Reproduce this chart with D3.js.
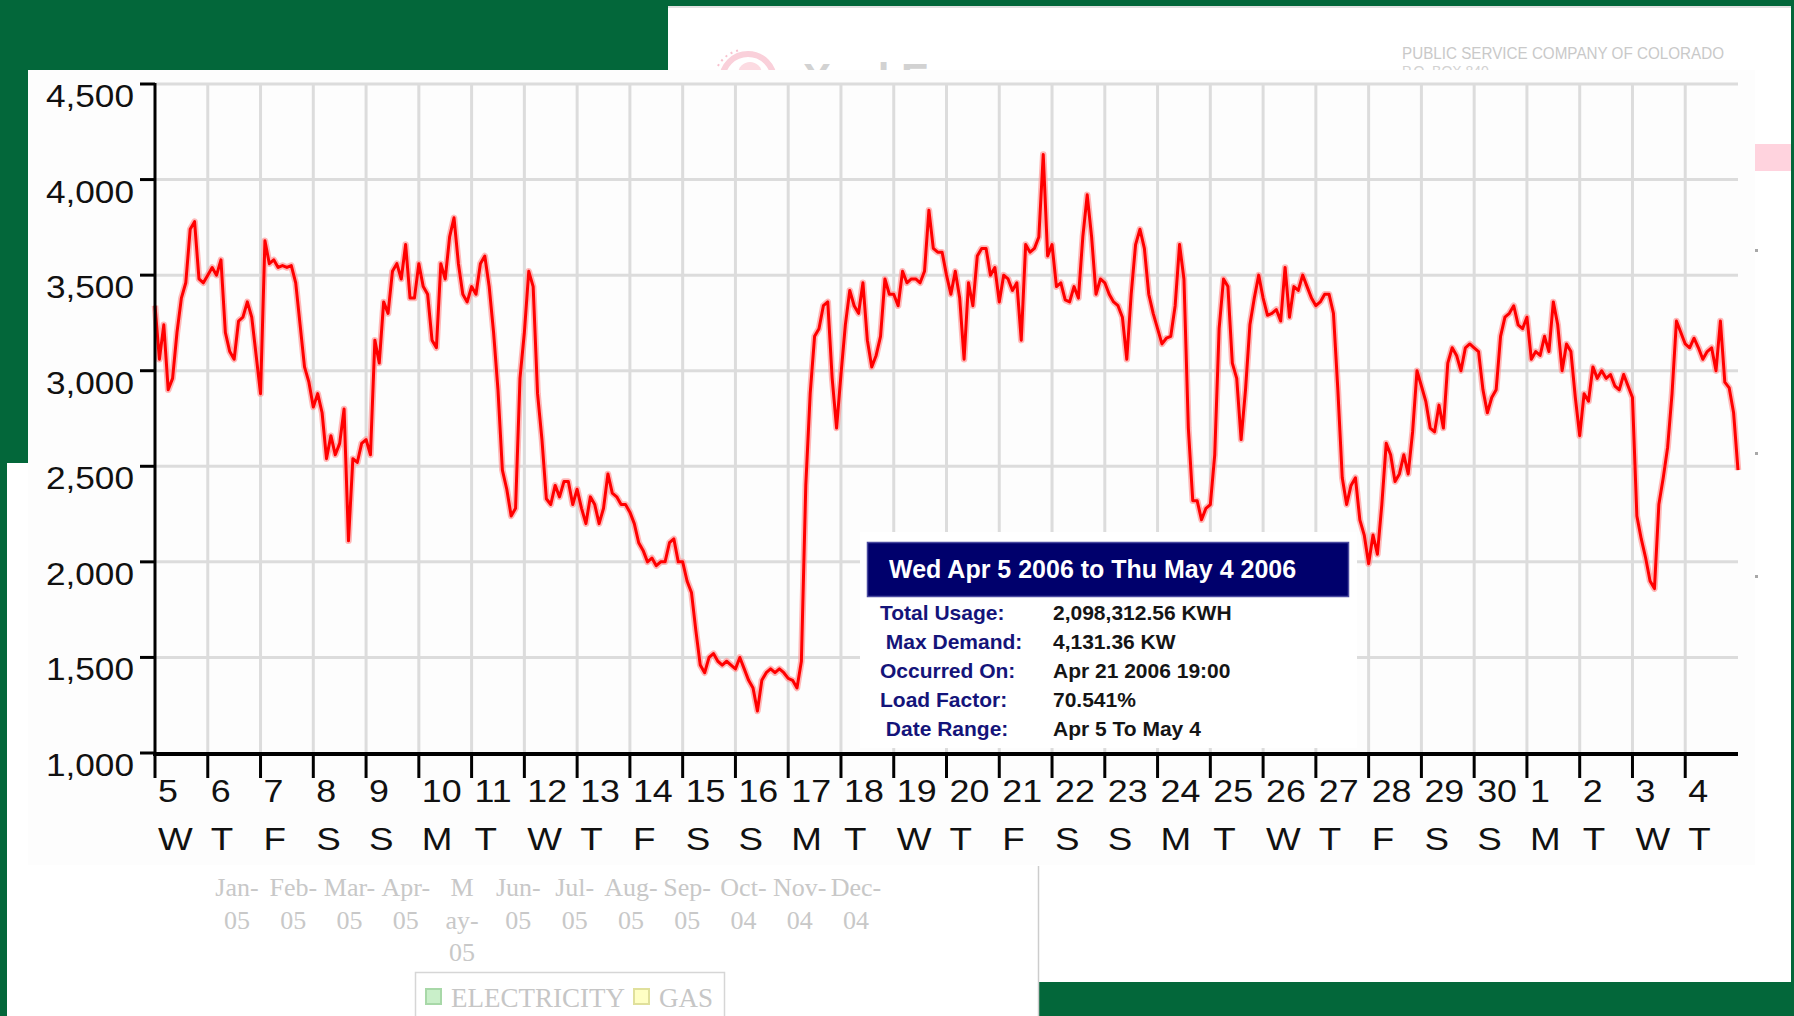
<!DOCTYPE html>
<html><head><meta charset="utf-8">
<script src="https://cdn.jsdelivr.net/npm/d3@7"></script>
<style>html,body{margin:0;padding:0;background:#03673a;overflow:hidden}svg{display:block}</style>
</head><body>
<svg id="c" width="1794" height="1016"></svg>
<script>
// ---------------- DATA ----------------
const startDate = "2006-04-05T00:00:00Z";
const endDate = "2006-05-05T00:00:00Z";
const stepHours = 2;
// Demand (KW), one value every 2 hours from Apr 5 00:00, one row per day
const demandKW = [
  3340,3060,3240,2900,2960,3200,3380,3460,3740,3780,3480,3460, // Apr 5
  3500,3540,3500,3580,3200,3100,3060,3260,3280,3360,3280,3080, // Apr 6
  2880,3680,3560,3580,3540,3550,3540,3550,3460,3240,3020,2940, // Apr 7
  2810,2880,2780,2540,2660,2560,2620,2800,2110,2540,2520,2620, // Apr 8
  2640,2560,3160,3040,3360,3300,3520,3560,3480,3660,3380,3380, // Apr 9
  3560,3440,3400,3160,3120,3560,3480,3700,3800,3560,3400,3360, // Apr 10
  3440,3400,3560,3600,3440,3200,2900,2480,2380,2240,2280,2960, // Apr 11
  3200,3520,3440,2880,2640,2330,2300,2400,2340,2420,2420,2300, // Apr 12
  2380,2280,2200,2340,2300,2200,2280,2460,2360,2340,2300,2300, // Apr 13
  2260,2200,2100,2060,2000,2020,1980,2000,2000,2100,2120,2000, // Apr 14
  2000,1900,1840,1640,1460,1420,1500,1520,1480,1460,1480,1460, // Apr 15
  1440,1500,1440,1380,1340,1220,1380,1420,1440,1420,1440,1420, // Apr 16
  1390,1380,1340,1480,2400,2880,3180,3220,3340,3360,2960,2700, // Apr 17
  2980,3240,3420,3340,3300,3460,3160,3020,3080,3180,3480,3400, // Apr 18
  3400,3340,3520,3460,3480,3480,3460,3520,3840,3640,3620,3620, // Apr 19
  3500,3400,3520,3380,3060,3460,3340,3600,3640,3640,3500,3540, // Apr 20
  3360,3500,3480,3420,3460,3160,3660,3620,3640,3700,4131.36,3600, // Apr 21
  3660,3440,3460,3370,3360,3440,3380,3700,3920,3700,3400,3480, // Apr 22
  3460,3400,3360,3340,3280,3060,3400,3660,3740,3640,3400,3300, // Apr 23
  3220,3140,3170,3180,3340,3660,3480,2700,2320,2320,2220,2280, // Apr 24
  2300,2560,3220,3480,3440,3040,2960,2640,2900,3240,3380,3500, // Apr 25
  3380,3290,3300,3320,3260,3540,3280,3440,3420,3500,3440,3380, // Apr 26
  3340,3360,3400,3400,3300,2900,2440,2300,2400,2440,2220,2140, // Apr 27
  1990,2140,2040,2300,2620,2560,2420,2460,2560,2460,2680,3000, // Apr 28
  2920,2840,2700,2680,2820,2700,3040,3120,3080,3000,3120,3140, // Apr 29
  3120,3100,2900,2780,2860,2900,3180,3280,3300,3340,3240,3220, // Apr 30
  3280,3060,3100,3080,3180,3100,3360,3240,3000,3140,3100,2860, // May 1
  2660,2880,2840,3020,2960,3000,2960,2980,2920,2900,2980,2920, // May 2
  2860,2240,2120,2020,1900,1860,2300,2440,2600,2880,3260,3200, // May 3
  3140,3120,3170,3120,3060,3100,3120,3000,3260,2940,2910,2780, // May 4
  2480                                                          // May 5 00:00
];
const yTicks = [1000,1500,2000,2500,3000,3500,4000,4500];
const dayNumbers = [5,6,7,8,9,10,11,12,13,14,15,16,17,18,19,20,21,22,23,24,25,26,27,28,29,30,1,2,3,4];
const dayLetters = ["W","T","F","S","S","M","T","W","T","F","S","S","M","T","W","T","F","S","S","M","T","W","T","F","S","S","M","T","W","T"];
const monthLines = [["Jan-","05"],["Feb-","05"],["Mar-","05"],["Apr-","05"],["M","ay-","05"],["Jun-","05"],
                    ["Jul-","05"],["Aug-","05"],["Sep-","05"],["Oct-","04"],["Nov-","04"],["Dec-","04"]];
const legendItems = ["ELECTRICITY","GAS"];
const tooltipTitle = "Wed Apr 5 2006 to Thu May 4 2006";
const tooltipLabels = ["Total Usage:","\u00a0Max Demand:","Occurred On:","Load Factor:","\u00a0Date Range:"];
const tooltipValues = ["2,098,312.56 KWH","4,131.36 KW","Apr 21 2006 19:00","70.541%","Apr 5 To May 4"];
const companyName = "PUBLIC SERVICE COMPANY OF COLORADO";
const companyAddr = "P.O. BOX 840";
const logoText = "Xcel Energy";

// ---------------- DRAW ----------------
const W = 1794, H = 1016;
const SANS = "'Liberation Sans', Arial, sans-serif";
const SERIF = "'Liberation Serif', 'Times New Roman', serif";
const GREEN = "#03673a";
const svg = d3.select("#c");

svg.append("rect").attr("width", W).attr("height", H).attr("fill", GREEN);

// Panel A (top-right, header sheet)
svg.append("rect").attr("x", 668).attr("y", 6).attr("width", 1123).attr("height", 976).attr("fill", "#fff");
svg.append("rect").attr("x", 668).attr("y", 6).attr("width", 1123).attr("height", 2).attr("fill", "#e2e2e2");
const logo = svg.append("g");
logo.append("circle").attr("cx", 748).attr("cy", 80).attr("r", 26)
  .attr("fill", "none").attr("stroke", "#fad0da").attr("stroke-width", 6);
logo.append("circle").attr("cx", 750).attr("cy", 74).attr("r", 12).attr("fill", "#fcdbe2");
logo.append("path").attr("d", "M718,66 A32,32 0 0 1 740,50").attr("fill", "none")
  .attr("stroke", "#f8c2cf").attr("stroke-width", 2).attr("stroke-dasharray", "2,4");
logo.append("text").attr("x", 803).attr("y", 93).attr("font-family", SANS).attr("font-size", 42)
  .attr("font-weight", "bold").attr("fill", "#d2d2d2").text(logoText);
svg.append("text").attr("x", 1402).attr("y", 59).attr("font-family", SANS).attr("font-size", 16)
  .attr("fill", "#c9c9c9").attr("textLength", 322).attr("lengthAdjust", "spacingAndGlyphs").text(companyName);
svg.append("text").attr("x", 1402).attr("y", 76).attr("font-family", SANS).attr("font-size", 14)
  .attr("fill", "#d2d2d2").text(companyAddr);
svg.append("rect").attr("x", 1755).attr("y", 144).attr("width", 36).attr("height", 27).attr("fill", "#ffd3de");
[249, 452, 575].forEach(yy => svg.append("rect").attr("x", 1755).attr("y", yy).attr("width", 3).attr("height", 3).attr("fill", "#a8a8a8"));

// Panel B (lower-left, month chart)
svg.append("rect").attr("x", 7).attr("y", 463).attr("width", 1031).attr("height", 553).attr("fill", "#fff");
svg.append("line").attr("x1", 1038.5).attr("x2", 1038.5).attr("y1", 866).attr("y2", H)
  .attr("stroke", "#cdcdcd").attr("stroke-width", 1.5);
const mx = d3.scalePoint().domain(d3.range(monthLines.length)).range([237, 856]);
const mg = svg.append("g").attr("font-family", SERIF).attr("font-size", 26).attr("fill", "#c8c8c8").attr("text-anchor", "middle");
monthLines.forEach((lines, i) => {
  lines.forEach((ln, j) => mg.append("text").attr("x", mx(i)).attr("y", 896 + j * 32.5).text(ln));
});
const lg = svg.append("g");
lg.append("rect").attr("x", 415.5).attr("y", 972.5).attr("width", 309).attr("height", 60)
  .attr("fill", "#fff").attr("stroke", "#d6d6d6").attr("stroke-width", 1.5);
const legendFill = ["#c9efc9", "#ffffc4"], legendStroke = ["#a8d8a8", "#e0e09c"];
const legendX = [426, 634];
legendItems.forEach((name, i) => {
  lg.append("rect").attr("x", legendX[i]).attr("y", 989).attr("width", 15).attr("height", 15)
    .attr("fill", legendFill[i]).attr("stroke", legendStroke[i]).attr("stroke-width", 2);
  lg.append("text").attr("x", legendX[i] + 25).attr("y", 1007).attr("font-family", SERIF)
    .attr("font-size", 27).attr("fill", "#c6c6c6").text(name);
});

// Main panel
svg.append("rect").attr("x", 28).attr("y", 70).attr("width", 1727).attr("height", 795).attr("fill", "#fdfdfd");

const t0 = new Date(startDate), t1 = new Date(endDate);
const x = d3.scaleUtc().domain([t0, t1]).range([155, 1738]);
const y = d3.scaleLinear().domain([1000, 4500]).range([753, 84]);
const days = d3.utcDay.range(t0, t1);

const grid = svg.append("g").attr("stroke", "#dcdcdc").attr("stroke-width", 3);
yTicks.filter(v => v > 1000).forEach(v => grid.append("line")
  .attr("x1", 155).attr("x2", 1738).attr("y1", y(v)).attr("y2", y(v)));
days.slice(1).forEach(d => grid.append("line")
  .attr("x1", x(d)).attr("x2", x(d)).attr("y1", y(4500)).attr("y2", y(1000)));

// data line
const series = demandKW.map((v, i) => ({ t: d3.utcHour.offset(t0, i * stepHours), v }));
const line = d3.line().x(d => x(d.t)).y(d => y(d.v));
svg.append("path").datum(series).attr("d", line).attr("fill", "none")
  .attr("stroke", "#ff9a9a").attr("stroke-width", 6.5).attr("stroke-linejoin", "round").attr("opacity", 0.7);
svg.append("path").datum(series).attr("d", line).attr("fill", "none")
  .attr("stroke", "#ff0000").attr("stroke-width", 3).attr("stroke-linejoin", "round");

// y axis
const ya = svg.append("g");
ya.append("line").attr("x1", 155).attr("x2", 155).attr("y1", y(4500) - 1).attr("y2", y(1000) + 2)
  .attr("stroke", "#000").attr("stroke-width", 3);
yTicks.forEach(v => {
  ya.append("line").attr("x1", 140).attr("x2", 155).attr("y1", y(v)).attr("y2", y(v))
    .attr("stroke", "#000").attr("stroke-width", 3);
  ya.append("text").attr("transform", `translate(134,${y(v) + 23}) scale(1.1,1)`)
    .attr("text-anchor", "end").attr("font-family", SANS).attr("font-size", 32).attr("fill", "#111")
    .text(d3.format(",")(v));
});

// x axis
const xa = svg.append("g");
xa.append("line").attr("x1", 153).attr("x2", 1738).attr("y1", 754).attr("y2", 754)
  .attr("stroke", "#000").attr("stroke-width", 4);
days.forEach((d, i) => {
  xa.append("line").attr("x1", x(d)).attr("x2", x(d)).attr("y1", 754).attr("y2", 778)
    .attr("stroke", "#000").attr("stroke-width", 3);
  xa.append("text").attr("transform", `translate(${x(d) + 3},802) scale(1.12,1)`)
    .attr("font-family", SANS).attr("font-size", 32).attr("fill", "#111").text(dayNumbers[i]);
  xa.append("text").attr("transform", `translate(${x(d) + 3},850) scale(1.15,1)`)
    .attr("font-family", SANS).attr("font-size", 32).attr("fill", "#111").text(dayLetters[i]);
});

// tooltip box
const tip = svg.append("g");
tip.append("rect").attr("x", 860).attr("y", 532).attr("width", 497).attr("height", 216).attr("fill", "#fff");
tip.append("rect").attr("x", 867.5).attr("y", 542.5).attr("width", 481).attr("height", 54)
  .attr("fill", "#00006c").attr("stroke", "#4a4aa0").attr("stroke-width", 1.5);
tip.append("text").attr("x", 889).attr("y", 578).attr("font-family", SANS).attr("font-size", 25)
  .attr("font-weight", "bold").attr("fill", "#fff").text(tooltipTitle);
tooltipLabels.forEach((lab, i) => {
  const by = 620 + i * 29;
  tip.append("text").attr("x", 880).attr("y", by).attr("font-family", SANS).attr("font-size", 21)
    .attr("font-weight", "bold").attr("fill", "#14147a").text(lab);
  tip.append("text").attr("x", 1053).attr("y", by).attr("font-family", SANS).attr("font-size", 21)
    .attr("font-weight", "bold").attr("fill", "#151515").text(tooltipValues[i]);
});
</script>
</body></html>
